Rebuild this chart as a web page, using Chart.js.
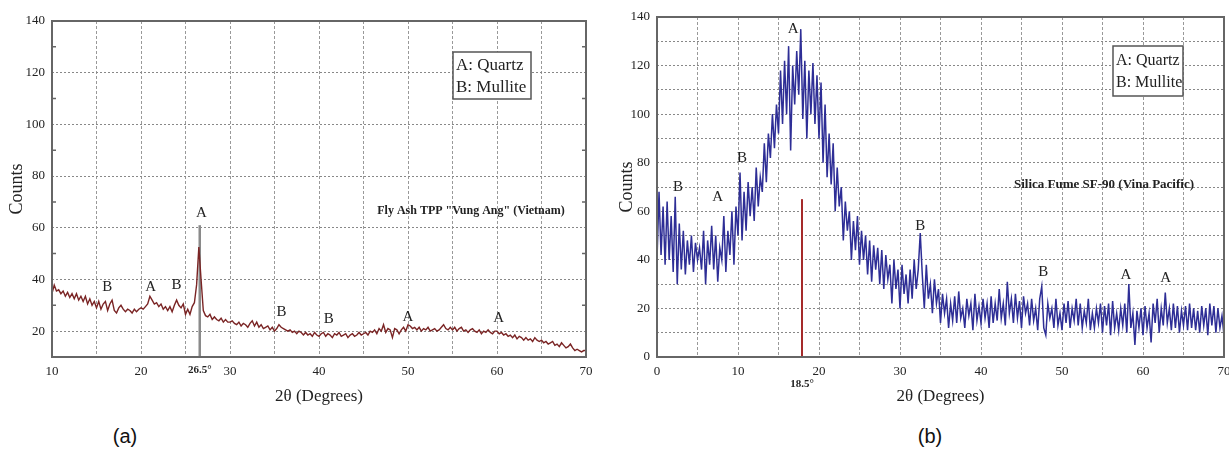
<!DOCTYPE html>
<html>
<head>
<meta charset="utf-8">
<script src="https://cdn.jsdelivr.net/npm/chart.js@4/dist/chart.umd.min.js"></script>
<style>
  html, body { margin: 0; padding: 0; background: #fff; overflow: hidden; }
  body { width: 1229px; height: 457px; position: relative; }
  canvas { position: absolute; top: 0; }
  #chartA { left: 0; }
  #chartB { left: 600px; }
  .cap { position: absolute; top: 425px; width: 60px; text-align: center; line-height: 24px;
         font: 20px "Liberation Sans", Arial, sans-serif; color: #111; }
</style>
</head>
<body>
<canvas id="chartA" width="600" height="420"></canvas>
<canvas id="chartB" width="640" height="420"></canvas>
<div class="cap" style="left:95px">(a)</div>
<div class="cap" style="left:900px">(b)</div>
<script>
"use strict";

// (a) fly ash TPP Vung Ang, 10-70 deg every 0.25 deg
const startA = 10;
const stepA = 0.25;
const countsA = [
  34.5, 37.8, 35.5, 36, 34.5, 35.5, 33.5, 35, 33, 34.5, 32.5, 34.5, 32, 33.5, 31.5, 33.5, 30.5, 32.5, 30, 31.5,
  29, 31.5, 28.5, 30.5, 31.5, 28, 30.5, 32, 28, 27, 29, 30, 28.5, 27.5, 28.5, 28, 27, 28.5, 27.5, 28.5,
  29, 28.5, 29.5, 30.5, 33.5, 32, 30.5, 31, 29.5, 30.5, 28.5, 29.5, 28, 29.5, 27.5, 30, 32, 30, 29, 30.5,
  26.5, 28.5, 26.5, 29.5, 31, 38, 52.5, 40, 28, 26, 25.5, 26.5, 24.5, 25.5, 24.5, 24, 25, 23.5, 24.5, 23.5,
  23.5, 24, 23, 22.5, 23.5, 22, 23, 22.5, 21.5, 23, 24, 22, 23.5, 21.5, 22.5, 21, 21.5, 22, 20.5, 21.5,
  20, 21, 22.5, 21.5, 21, 20.5, 20, 20.5, 19.5, 20, 19, 20, 19.5, 18.5, 19.5, 18.5, 19, 18, 19.5, 18.5,
  18, 19, 19.5, 18, 19, 18.5, 17.5, 19, 18.5, 19.5, 18, 18.5, 19, 17.5, 18.5, 19, 18, 18.5, 19.5, 18.5,
  19, 19.5, 18.5, 20, 19.5, 20.5, 19, 21, 20, 22.5, 19.5, 21, 20.5, 17.5, 21, 20.5, 19, 20.5, 21.5, 20,
  22.5, 22, 21, 21.5, 20.5, 21.5, 20, 21, 20.5, 21.5, 20, 20.5, 21, 20, 20.5, 21.5, 22.5, 21, 20.5, 21.5,
  20.5, 21.5, 20, 21, 21.5, 20, 20.5, 19.5, 20.5, 21, 20, 19.5, 20.5, 19, 20, 19.5, 20.5, 19.5, 19, 20,
  20, 19, 19.5, 18.5, 19, 18, 18.5, 17.5, 18.5, 17, 18, 17.5, 16.5, 17.5, 16.5, 17, 16, 17.5, 16.5, 16,
  16.5, 15.5, 16, 15, 15.5, 16, 14.5, 15, 14, 15.5, 14.5, 13.5, 14, 15, 13.5, 12.5, 13, 12.5, 12, 12.5,
  12.5
];
const peakLettersA = ["B", "A", "B", "A", "B", "B", "A", "A"];
const peakAnglesA = [16.2, 21.1, 24.0, 26.8, 35.8, 41.1, 50.0, 60.2];
const peakHeightsA = [37, 37, 38, 65.7, 27.4, 24.7, 25.5, 25.1];
const markerAngleA = 26.6;
const markerTopA = 61;
const markerTextA = "26.5\u00b0";

// (b) silica fume SF-90, 0-70 deg every 0.25 deg
const startB = 0;
const stepB = 0.25;
const countsB = [
  40, 68, 42, 62,   38, 64, 40, 58,   35, 66, 30, 55,   36, 52, 34, 48,   38, 50, 35, 47,
  40, 45, 36, 52,   30, 48, 38, 54,   36, 50, 31, 45,   40, 58, 35, 52,   42, 60, 38, 62,
  50, 76, 48, 68,   52, 72, 58, 70,   56, 78, 62, 74,   68, 88, 72, 92,   82, 100, 86, 104,
  92, 118, 96, 122, 100, 128, 85, 120, 104, 126, 108, 135, 98, 122, 90, 118, 100, 121, 96, 116,
  90, 113, 80, 104, 74, 92, 71, 88,   60, 78, 62, 70,   48, 64, 52, 60,   40, 56, 44, 58,
  38, 52, 40, 50,   34, 48, 31, 46,   36, 45, 30, 44,   28, 42, 32, 38,   22, 40, 28, 36,
  20, 38, 26, 34,   22, 36, 24, 40,   28, 36, 51, 34,   20, 38, 24, 30,   18, 32, 22, 28,
  14, 26, 18, 24,   12, 22, 15, 25,   14, 27, 16, 20,   12, 24, 17, 22,   11, 26, 15, 21,
  14, 24, 16, 22,   12, 25, 14, 22,   15, 28, 16, 22,   13, 31, 18, 24,   14, 26, 16, 23,
  12, 25, 18, 22,   13, 24, 15, 20,   11, 24, 29, 12,   9, 22, 16, 20,    12, 24, 13, 18,
  11, 22, 14, 23,   12, 20, 15, 24,   13, 22, 12, 19,   14, 24, 11, 18,   12, 20, 14, 22,
  10, 21, 13, 22,   9, 23, 12, 18,    11, 20, 13, 22,   10, 30, 12, 18,   5, 19, 12, 20,
  9, 21, 12, 18,    6, 22, 14, 24,    10, 20, 13, 26.5, 14, 20, 11, 22,   12, 21, 10, 19,
  13, 21, 11, 22,   12, 20, 11, 19,   10, 21, 13, 20,   9, 22, 13, 21,    10, 20, 12, 17,
  9
];
const peakLettersB = ["B", "A", "B", "A", "B", "B", "A", "A"];
const peakAnglesB = [2.6, 7.5, 10.5, 16.8, 32.5, 47.7, 57.9, 62.8];
const peakHeightsB = [70, 66, 82, 135, 54, 35, 33.7, 32.5];
const markerAngleB = 17.9;
const markerTopB = 65;
const markerTextB = "18.5\u00b0";

const phaseLines = ["A: Quartz", "B: Mullite"];

const serif = "'Liberation Serif', 'Times New Roman', serif";
const ink = "#222";

function toPoints(start, step, values) {
  return values.map((v, i) => ({ x: start + i * step, y: v }));
}

// frame, minor ticks, peak letters, sample name and phase box
const xrdNotes = {
  id: "xrdNotes",
  afterDraw(chart, args, o) {
    const { ctx, chartArea: a } = chart;
    const x = chart.scales.x;
    const y = chart.scales.y;
    ctx.save();
    ctx.strokeStyle = "#666";
    ctx.lineWidth = 2;
    ctx.strokeRect(a.left, a.top, a.right - a.left, a.bottom - a.top);

    if (o.minorTicks) {
      ctx.lineWidth = 1.5;
      ctx.beginPath();
      y.ticks.forEach(t => {
        if (t.value % 20 === 0 || t.value <= y.min || t.value >= y.max) return;
        const py = y.getPixelForValue(t.value);
        ctx.moveTo(a.left, py);
        ctx.lineTo(a.left + 4, py);
        ctx.moveTo(a.right, py);
        ctx.lineTo(a.right - 4, py);
      });
      ctx.stroke();
    }

    ctx.fillStyle = ink;
    ctx.textAlign = "center";
    ctx.textBaseline = "middle";
    ctx.font = "15px " + serif;
    o.letters.forEach((l, i) => {
      ctx.fillText(l, x.getPixelForValue(o.angles[i]), y.getPixelForValue(o.heights[i]));
    });

    ctx.font = "bold " + o.nameSize + "px " + serif;
    ctx.fillText(o.name, o.nameX, o.nameY);

    const b = o.box;
    ctx.fillStyle = "#fff";
    ctx.fillRect(b[0], b[1], b[2], b[3]);
    ctx.strokeStyle = "#555";
    ctx.lineWidth = 1.5;
    ctx.strokeRect(b[0], b[1], b[2], b[3]);
    ctx.fillStyle = ink;
    ctx.textAlign = "left";
    ctx.font = o.boxSize + "px " + serif;
    phaseLines.forEach((t, i) => ctx.fillText(t, b[0] + 3, b[1] + o.boxRows[i]));
    ctx.restore();
  }
};

function makeChart(id, cfg) {
  const marker = cfg.marker;
  new Chart(document.getElementById(id), {
    type: "line",
    data: {
      datasets: [
        {
          data: cfg.points,
          borderColor: cfg.color,
          borderWidth: cfg.lineWidth,
          pointRadius: 0,
          tension: 0,
        },
        {
          data: [{ x: marker.angle, y: cfg.yMin }, { x: marker.angle, y: marker.top }],
          borderColor: marker.color,
          borderWidth: marker.width,
          pointRadius: 0,
        },
      ],
    },
    options: {
      responsive: false,
      animation: false,
      layout: { padding: cfg.padding },
      plugins: {
        legend: { display: false },
        tooltip: { enabled: false },
        xrdNotes: cfg.notes,
      },
      scales: {
        x: {
          type: "linear",
          min: cfg.xMin,
          max: 70,
          afterBuildTicks: s => {
            s.ticks.push({ value: marker.angle });
            s.ticks.sort((p, q) => p.value - q.value);
          },
          afterFit: s => { s.height = 63; },
          ticks: {
            stepSize: 5,
            autoSkip: false,
            maxRotation: 0,
            padding: 7,
            color: ink,
            callback: v => (v === marker.angle ? marker.label : (v % 10 === 0 ? String(v) : "")),
            font: c => (c.tick && c.tick.value === marker.angle
              ? { family: serif, size: 11, weight: "bold" }
              : { family: serif, size: 13 }),
          },
          grid: {
            drawTicks: false,
            color: c => (c.tick && c.tick.value === marker.angle ? "rgba(0,0,0,0)" : "#999"),
          },
          border: { display: false, dash: [3, 2] },
          title: {
            display: true,
            text: "2\u03b8 (Degrees)",
            color: ink,
            font: { family: serif, size: 17 },
            padding: { top: 0, bottom: 13 },
          },
        },
        y: {
          min: cfg.yMin,
          max: 140,
          afterFit: s => { s.width = cfg.yWidth; },
          ticks: {
            stepSize: 10,
            padding: 7,
            color: ink,
            font: { family: serif, size: 13 },
            callback: v => (v % 20 === 0 && !(cfg.yMin === 10 && v === 10) ? String(v) : ""),
          },
          grid: {
            drawTicks: false,
            color: c => (cfg.yGridEvery20 && c.tick.value % 20 !== 0 ? "rgba(0,0,0,0)" : "#888"),
          },
          border: { display: false, dash: [2, 2] },
          title: {
            display: true,
            text: "Counts",
            color: ink,
            font: { family: serif, size: 18 },
            padding: { top: cfg.yTitlePad, bottom: 0 },
          },
        },
      },
    },
    plugins: [xrdNotes],
  });
}

makeChart("chartA", {
  points: toPoints(startA, stepA, countsA),
  color: "#7a2424",
  lineWidth: 1.4,
  xMin: 10,
  yMin: 10,
  yWidth: 52,
  yTitlePad: 6,
  yGridEvery20: true,
  padding: { top: 21, right: 14, left: 0, bottom: 0 },
  marker: { angle: markerAngleA, top: markerTopA, label: markerTextA, color: "#8a8a8a", width: 2.5 },
  notes: {
    minorTicks: true,
    letters: peakLettersA,
    angles: peakAnglesA,
    heights: peakHeightsA,
    name: "Fly Ash TPP \"Vung Ang\" (Vietnam)",
    nameSize: 12,
    nameX: 471,
    nameY: 211,
    box: [453, 52, 78, 47],
    boxRows: [14, 36],
    boxSize: 17,
  },
});

makeChart("chartB", {
  points: toPoints(startB, stepB, countsB),
  color: "#2e2e96",
  lineWidth: 1.5,
  xMin: 0,
  yMin: 0,
  yWidth: 57,
  yTitlePad: 16,
  yGridEvery20: false,
  padding: { top: 17, right: 16, left: 0, bottom: 0 },
  marker: { angle: markerAngleB, top: markerTopB, label: ["", markerTextB], color: "#a52a2a", width: 2 },
  notes: {
    minorTicks: false,
    letters: peakLettersB,
    angles: peakAnglesB,
    heights: peakHeightsB,
    name: "Silica Fume SF-90 (Vina Pacific)",
    nameSize: 13,
    nameX: 504,
    nameY: 185,
    box: [513, 46, 70, 50],
    boxRows: [15, 37],
    boxSize: 16,
  },
});
</script>
</body>
</html>
